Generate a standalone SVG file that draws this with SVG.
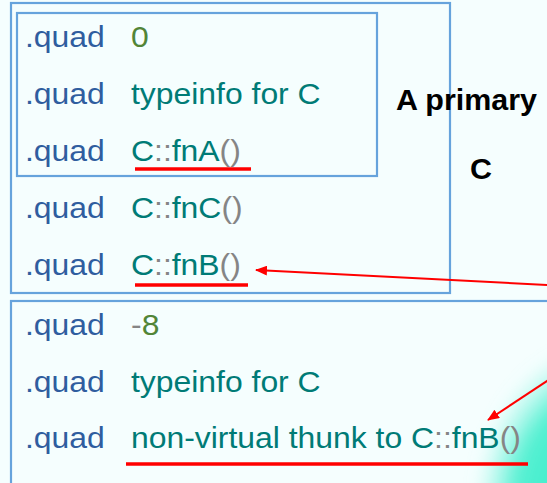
<svg xmlns="http://www.w3.org/2000/svg" width="547" height="483" viewBox="0 0 547 483">
  <defs>
    <style>
      .bg { fill: #f5fefe; }
      .box { fill: none; stroke: #66a3dc; stroke-width: 2.2; }
      .code { font-family: "Liberation Sans", Arial, sans-serif; font-size: 29px; }
      .kw { fill: #2f5d9f; }
      .val { fill: #007b76; }
      .num { fill: #528537; }
      .op { fill: #858585; }
      .label { font-family: "Liberation Sans", Arial, sans-serif; font-size: 29px; font-weight: bold; fill: #000; }
      .ul { stroke: #ff0000; stroke-width: 3.5; }
      .arrow { stroke: #ff0000; stroke-width: 2; fill: none; marker-end: url(#head); }
    </style>
    <marker id="head" viewBox="0 0 12 10" refX="11" refY="5" markerWidth="12" markerHeight="10" markerUnits="userSpaceOnUse" orient="auto">
      <path d="M0,0 L12,5 L0,10 Z" fill="#ff0000"/>
    </marker>
    <radialGradient id="glowGrad" cx="0.5" cy="0.5" r="0.5">
      <stop offset="0" stop-color="#2aeec4"/>
      <stop offset="0.7" stop-color="#55f0d2"/>
      <stop offset="1" stop-color="#8ff5e4" stop-opacity="0"/>
    </radialGradient>
    <filter id="soft" x="-50%" y="-50%" width="200%" height="200%">
      <feGaussianBlur stdDeviation="8"/>
    </filter>
  </defs>

  <rect class="bg" x="0" y="0" width="547" height="483"/>

  <!-- glow in the lower right corner -->
  <ellipse cx="610" cy="505" rx="135" ry="165" fill="url(#glowGrad)" filter="url(#soft)"/>

  <!-- vtable block for C (primary) -->
  <g id="vtable-primary">
    <rect class="box" x="11" y="3" width="439" height="290"/>
    <g class="code">
      <text class="kw" transform="translate(25,47) scale(1.1,1)">.quad</text>
      <text class="kw" transform="translate(25,104) scale(1.1,1)">.quad</text>
      <text class="kw" transform="translate(25,161) scale(1.1,1)">.quad</text>
      <text class="kw" transform="translate(25,218) scale(1.1,1)">.quad</text>
      <text class="kw" transform="translate(25,275) scale(1.1,1)">.quad</text>
      <text class="num" transform="translate(131,47) scale(1.1,1)">0</text>
      <text class="val" transform="translate(131,104) scale(1.1,1)">typeinfo for C</text>
      <text class="val" transform="translate(131,161) scale(1.1,1)">C<tspan class="op">::</tspan>fnA<tspan class="op">()</tspan></text>
      <text class="val" transform="translate(131,218) scale(1.1,1)">C<tspan class="op">::</tspan>fnC<tspan class="op">()</tspan></text>
      <text class="val" transform="translate(131,275) scale(1.1,1)">C<tspan class="op">::</tspan>fnB<tspan class="op">()</tspan></text>
    </g>
    <line class="ul" x1="135" y1="169" x2="251" y2="169"/>
    <line class="ul" x1="135" y1="285" x2="248" y2="285"/>
  </g>

  <!-- A part inside the primary block -->
  <g id="a-part">
    <rect class="box" x="17" y="13" width="360" height="163"/>
  </g>

  <!-- side label -->
  <g id="label-a-primary">
    <text class="label" transform="translate(396,110) scale(1.05,1)">A primary</text>
    <text class="label" transform="translate(470,179) scale(1.05,1)">C</text>
  </g>

  <!-- secondary vtable block -->
  <g id="vtable-secondary">
    <rect class="box" x="11" y="301" width="560" height="200"/>
    <g class="code">
      <text class="kw" transform="translate(25,335) scale(1.1,1)">.quad</text>
      <text class="kw" transform="translate(25,392) scale(1.1,1)">.quad</text>
      <text class="kw" transform="translate(25,448) scale(1.1,1)">.quad</text>
      <text class="num" transform="translate(131,335) scale(1.1,1)"><tspan class="op">-</tspan>8</text>
      <text class="val" transform="translate(131,392) scale(1.1,1)">typeinfo for C</text>
      <text class="val" transform="translate(131,448) scale(1.1,1)">non-virtual thunk to C<tspan class="op">::</tspan>fnB<tspan class="op">()</tspan></text>
    </g>
    <line class="ul" x1="126" y1="464" x2="528" y2="464"/>
  </g>

  <!-- connectors -->
  <g id="connectors">
    <line class="arrow" x1="682" y1="292" x2="256" y2="270"/>
    <line class="arrow" x1="682" y1="292" x2="488" y2="420"/>
  </g>
</svg>
